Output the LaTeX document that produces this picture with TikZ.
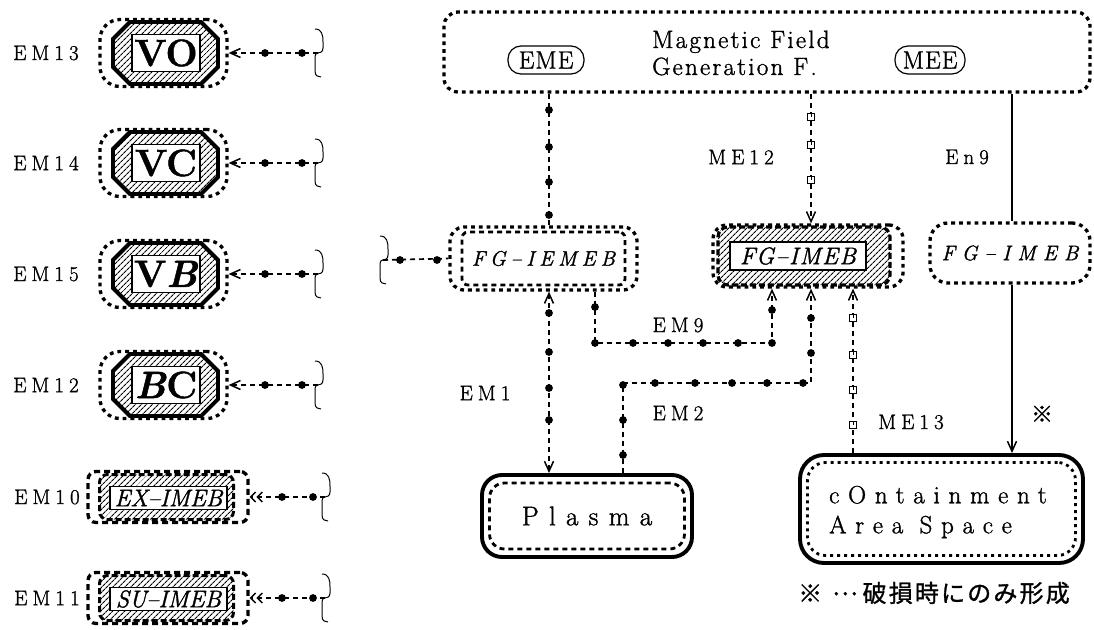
\documentclass[tikz,border=0pt]{standalone}
\usepackage{fontspec}
\usepackage{graphicx}
\setmainfont{Latin Modern Roman}[FakeBold=1.3]
\newfontfamily\cjk{Noto Sans CJK JP}[FakeBold=1.2]
\usetikzlibrary{arrows.meta,patterns.meta}

\newcommand\lblf{\fontsize{21}{22}\selectfont\addfontfeature{LetterSpace=24}}
\newcommand\bigf{\fontsize{38}{40}\selectfont\bfseries}
\newcommand\exf{\fontsize{24}{24}\selectfont\itshape}
\newcommand\magf{\fontsize{25}{27}\selectfont\addfontfeature{LetterSpace=9}}
\newcommand\ovalf{\fontsize{25}{26}\selectfont\addfontfeature{LetterSpace=4}}
\newcommand\fgief{\fontsize{21}{22}\selectfont\itshape\addfontfeature{LetterSpace=24}}
\newcommand\fgmf{\fontsize{24}{26}\selectfont\itshape\addfontfeature{LetterSpace=6}}
\newcommand\fgrf{\fontsize{21}{24}\selectfont\itshape\addfontfeature{LetterSpace=34}}
\newcommand\plf{\fontsize{27}{28}\selectfont\addfontfeature{LetterSpace=38}}
\newcommand\conf{\fontsize{25}{30}\selectfont\addfontfeature{LetterSpace=35}}
\newcommand\footf{\cjk\fontsize{24}{24}\selectfont\addfontfeature{LetterSpace=9}}

\newcommand\dotm[2]{\fill (#1,#2) circle[radius=3.9pt];}
\newcommand\sqm[2]{\draw[line width=1pt, fill=white] ({#1-3.5},{#2-3.5}) rectangle ({#1+3.5},{#2+3.5});
  \draw[line width=0.8pt] (#1,{#2-3.5}) -- (#1,#2);}
\newcommand\wbrace[1]{%
  \draw[line width=1pt]
   ([shift={(-3,-24)}]#1) .. controls ([shift={(4,-24)}]#1) and ([shift={(5,-18)}]#1) .. ([shift={(5,-11)}]#1)
   -- ([shift={(5,-5)}]#1) .. controls ([shift={(5,-1)}]#1) and ([shift={(2,0)}]#1) .. (#1)
   .. controls ([shift={(-3,0)}]#1) and ([shift={(-3,3)}]#1) .. ([shift={(-3,7)}]#1)
   -- ([shift={(-3,18)}]#1) .. controls ([shift={(-3,23)}]#1) and ([shift={(0,24)}]#1) .. ([shift={(3,24)}]#1);}

\tikzset{
  dotbox/.style={draw, line width=3.3pt, dash pattern=on 3.8pt off 4pt, rounded corners=13pt, inner sep=0pt},
  thickbox/.style={draw, line width=3.9pt, rounded corners=20pt, inner sep=0pt},
  hatch/.style={pattern={Lines[angle=45,distance=4pt,line width=1.2pt]}},
  whitebox/.style={draw, fill=white, line width=1.4pt, inner sep=0pt},
  conn/.style={line width=1.7pt, dash pattern=on 5pt off 4pt},
  solidconn/.style={line width=1.7pt},
  mybarb/.tip={Straight Barb[length=10pt,width=9pt,line width=1.5pt]},
  mybarbb/.tip={Straight Barb[length=5pt,width=10pt,line width=1.4pt]Straight Barb[length=5pt,width=10pt,line width=1.4pt]},
  lbl/.style={font=\lblf, inner sep=0pt},
  oval/.style={draw, line width=1.2pt, rounded corners=13pt, minimum height=28pt, minimum width=76pt, inner xsep=4pt, inner ysep=2pt, font=\ovalf},
}

\newcommand\octrow[4]{%
 \node[dotbox, minimum width=127pt, minimum height=67pt, rounded corners=20pt] (#1o) at (163.5,#2) {};
 \draw[line width=3.9pt, hatch] (113,{#2-14}) -- (130,{#2-31}) -- (201,{#2-31}) -- (218,{#2-14}) -- (218,{#2+14}) -- (201,{#2+31}) -- (130,{#2+31}) -- (113,{#2+14}) -- cycle;
 \node[whitebox, minimum width=68pt, minimum height=37pt, font=\bigf] (#1) at (166,#2) {#4};
 \node[lbl] (#1l) at (46,#2) {#3};
 \coordinate (#1b) at (318,#2);
 \draw[conn, -mybarb] (#1b) -- (#1o.east);
 \dotm{265}{#2}\dotm{302}{#2}
 \wbrace{#1b}
}
\newcommand\exrow[4]{%
 \node[dotbox, dash pattern=on 6pt off 4pt, minimum width=160pt, minimum height=51pt, rounded corners=8pt] (#1o) at (168,#2) {};
 \node[draw, line width=3pt, dash pattern=on 6pt off 3pt, hatch, rounded corners=8pt, minimum width=134pt, minimum height=45pt, inner sep=0pt] (#1h) at (166.5,#2) {};
 \node[whitebox, minimum width=117pt, minimum height=23pt, font=\exf] (#1) at (168.5,{#2+1}) {#4};
 \node[lbl] (#1l) at (47,#2) {#3};
 \coordinate (#1b) at (325,#2);
 \draw[conn, -mybarbb] (#1b) -- (#1o.east);
 \dotm{282}{#2}\dotm{313}{#2}
 \wbrace{#1b}
}

\begin{document}
\begin{tikzpicture}[x=1pt,y=-1pt]
\useasboundingbox (0,0) rectangle (1094,629);

% ---------- left column ----------
\octrow{vo}{53}{EM13}{VO}
\octrow{vc}{163}{EM14}{VC}
\octrow{vb}{274}{EM15}{V\textit{B}}
\octrow{bc}{385}{EM12}{\textit{B}C}
\exrow{ex}{497}{EM10}{EX–IMEB}
\exrow{su}{598}{EM11}{SU–IMEB}

% ---------- top box ----------
\node[dotbox, minimum width=646pt, minimum height=80pt, rounded corners=14pt] (mag) at (767,52) {};
\node[font=\magf, align=left, anchor=west, inner sep=0pt] (magt) at (652,53) {Magnetic Field\\Generation F.};
\node[oval] (eme) at (546,60) {EME};
\node[oval, minimum width=70pt] (mee) at (930,60) {MEE};

% ---------- middle boxes ----------
\node[dotbox, minimum width=187pt, minimum height=63pt, rounded corners=14pt] (fgie) at (543.5,258.5) {};
\node[draw, line width=2.8pt, dash pattern=on 5pt off 4pt, rounded corners=6pt, minimum width=163pt, minimum height=53pt, inner sep=0pt, font=\fgief] (fgiet) at (543.5,258.5) {FG–IEMEB};

\node[dotbox, minimum width=190pt, minimum height=62pt, rounded corners=14pt] (fgmo) at (808,256) {};
\node[draw, line width=3.2pt, dash pattern=on 6pt off 3pt, hatch, rounded corners=10pt, minimum width=172pt, minimum height=58pt, inner sep=0pt] (fgm) at (804,256) {};
\node[whitebox, minimum width=136pt, minimum height=28pt, font=\fgmf] (fgmt) at (798,256) {FG–IMEB};

\node[dotbox, minimum width=160pt, minimum height=60pt, rounded corners=18pt, font=\fgrf] (fgr) at (1010,253) {FG–IMEB};

% ---------- bottom boxes ----------
\node[thickbox, minimum width=210pt, minimum height=82pt] (plasma) at (587,516) {};
\node[draw, line width=2.8pt, dash pattern=on 5pt off 4pt, rounded corners=15pt, minimum width=195pt, minimum height=66pt, inner sep=0pt, font=\plf] (plasmat) at (587,516) {Plasma};

\node[thickbox, minimum width=283pt, minimum height=108pt, rounded corners=24pt] (cont) at (941.5,509) {};
\node[draw, line width=2.8pt, dash pattern=on 3pt off 4pt, rounded corners=18pt, minimum width=268pt, minimum height=93pt, inner sep=0pt] (conti) at (941.5,509) {};
\node[font=\conf, align=left, anchor=west, inner sep=0pt] (contt) at (829,512) {cOntainment\\Area Space};

% ---------- helper x positions ----------
\coordinate (xA) at (549,0);
\coordinate (xB) at (811,0);
\coordinate (xC) at (1012,0);
\coordinate (xE) at (595,0);
\coordinate (xF) at (772,0);
\coordinate (xG) at (623,0);
\coordinate (xH) at (853,0);
\coordinate (k9) at (0,343);
\coordinate (k2) at (0,383);

% mag -> FG-IEMEB
\draw[conn] (mag.south -| xA) -- (fgie.north -| xA);
\foreach \y in {110,147,182,215} {\dotm{549}{\y}}

% ME12
\draw[conn, -mybarb] (mag.south -| xB) -- (fgmo.north -| xB);
\foreach \y in {117,145,180} {\sqm{811}{\y}}
\node[lbl] (me12) at (741,157) {ME12};

% En9
\draw[solidconn] (mag.south -| xC) -- (fgr.north -| xC);
\node[lbl] (en9) at (967,157) {En9};

% FG-IMEB right -> containment
\draw[solidconn, -mybarb] (fgr.south -| xC) -- (cont.north -| xC);
\node[font=\cjk\fontsize{22}{22}\selectfont, inner sep=0pt] (kome) at (1042,414) {※};

% EM1
\draw[conn, mybarb-mybarb] (fgie.south -| xA) -- (plasma.north -| xA);
\foreach \y in {313,352,388,420} {\dotm{549}{\y}}
\node[lbl] (em1) at (485,393) {EM1};

% EM9
\draw[conn, -mybarb] (fgie.south -| xE) -- (k9 -| xE) -- (k9 -| xF) -- (fgmo.south -| xF);
\foreach \p in {(595,307),(595,343),(633,343),(668,343),(703,343),(738,343),(772,343),(772,310)} {\fill \p circle[radius=3.9pt];}
\node[lbl] (em9) at (678,325) {EM9};

% EM2
\draw[conn, -mybarb] (plasma.north -| xG) -- (k2 -| xG) -- (k2 -| xB) -- (fgmo.south -| xB);
\foreach \p in {(623,455),(623,420),(623,385),(655,383),(695,383),(732,383),(767,383),(803,383),(811,353),(811,318)} {\fill \p circle[radius=3.9pt];}
\node[lbl] (em2) at (678,413) {EM2};

% ME13
\draw[conn, -mybarb] (cont.north -| xH) -- (fgmo.south -| xH);
\foreach \y in {318,355,390,425} {\sqm{853}{\y}}
\node[lbl] (me13) at (911,422) {ME13};

% FG-IEMEB left brace
\coordinate (bl) at (383,260);
\draw[conn] (bl) -- (fgie.west);
\dotm{400}{260}\dotm{437}{260}
\wbrace{bl}

% footnote
\node[font=\footf, anchor=west, inner sep=0pt] (note) at (798,593) {※\hspace{10pt}\raisebox{7pt}{…}\hspace{5pt}破損時にのみ形成};
\end{tikzpicture}
\end{document}
